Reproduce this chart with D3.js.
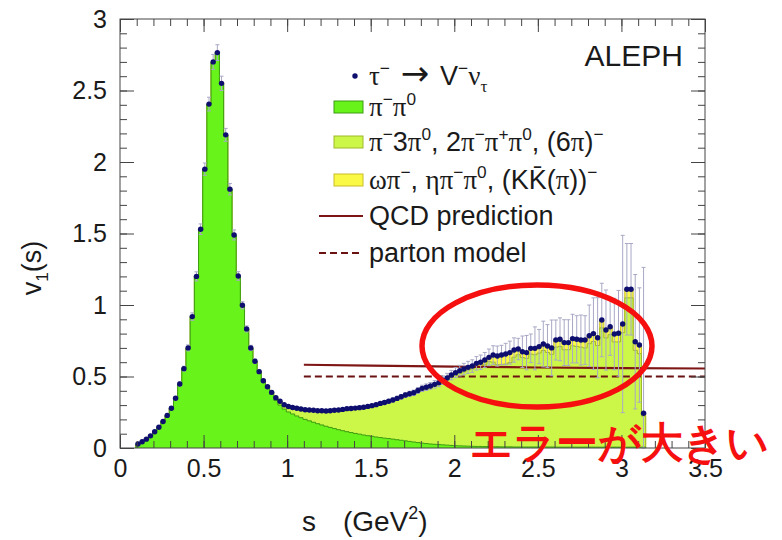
<!DOCTYPE html>
<html>
<head>
<meta charset="utf-8">
<script src="https://cdn.jsdelivr.net/npm/d3@7"></script>
<style>
  body { margin: 0; background: #fff; }
  svg text { font-family: "Liberation Sans", Arial, sans-serif; fill: #1a1a1a; }
</style>
</head>
<body>
<svg id="chart" width="782" height="540"></svg>
<script>
// histogram binning (GeV^2)
const binStart = 0.095
const binWidth = 0.025

// measured v1(s) with errors, one value per bin
const vData = [
  0.028, 0.044, 0.062, 0.085, 0.114, 0.145, 0.185, 0.228, 0.278, 0.348,
  0.448, 0.555, 0.700, 0.919, 1.200, 1.530, 1.950, 2.405, 2.700, 2.765,
  2.550, 2.190, 1.810, 1.490, 1.203, 0.998, 0.833, 0.700, 0.607, 0.534,
  0.470, 0.428, 0.389, 0.352, 0.327, 0.302, 0.290, 0.283, 0.278, 0.273,
  0.268, 0.266, 0.264, 0.261, 0.261, 0.259, 0.261, 0.264, 0.266, 0.270,
  0.275, 0.276, 0.279, 0.282, 0.285, 0.291, 0.296, 0.303, 0.312, 0.318,
  0.327, 0.336, 0.347, 0.358, 0.371, 0.379, 0.386, 0.402, 0.417, 0.425,
  0.434, 0.445, 0.457, 0.474, 0.490, 0.510, 0.527, 0.541, 0.552, 0.564,
  0.573, 0.592, 0.600, 0.615, 0.634, 0.650, 0.643, 0.650, 0.657, 0.667,
  0.685, 0.692, 0.673, 0.667, 0.697, 0.697, 0.709, 0.727, 0.713, 0.700,
  0.755, 0.760, 0.737, 0.737, 0.765, 0.760, 0.755, 0.755, 0.785, 0.800,
  0.771, 0.895, 0.825, 0.848, 0.797, 0.802, 0.867, 1.110, 1.110, 0.743,
  0.720, 0.243
]
const vErr = [
  0.004, 0.004, 0.005, 0.005, 0.006, 0.007, 0.008, 0.009, 0.010, 0.012,
  0.014, 0.017, 0.021, 0.026, 0.032, 0.037, 0.043, 0.048, 0.052, 0.055,
  0.050, 0.045, 0.040, 0.035, 0.030, 0.025, 0.021, 0.018, 0.015, 0.013,
  0.011, 0.010, 0.009, 0.008, 0.008, 0.007, 0.007, 0.007, 0.007, 0.007,
  0.007, 0.007, 0.007, 0.007, 0.008, 0.008, 0.008, 0.008, 0.008, 0.009,
  0.009, 0.009, 0.010, 0.010, 0.010, 0.011, 0.011, 0.012, 0.012, 0.013,
  0.013, 0.014, 0.015, 0.016, 0.017, 0.018, 0.019, 0.020, 0.022, 0.023,
  0.024, 0.026, 0.028, 0.030, 0.032, 0.033, 0.035, 0.037, 0.040, 0.042,
  0.044, 0.047, 0.050, 0.053, 0.058, 0.065, 0.070, 0.068, 0.075, 0.080,
  0.085, 0.075, 0.110, 0.120, 0.100, 0.150, 0.120, 0.160, 0.150, 0.195,
  0.140, 0.150, 0.160, 0.160, 0.170, 0.165, 0.175, 0.170, 0.215, 0.250,
  0.280, 0.257, 0.280, 0.200, 0.250, 0.300, 0.620, 0.320, 0.320, 0.470,
  0.400, 1.020
]

// stacked contributions
const pipi = [
  0.028, 0.044, 0.062, 0.085, 0.114, 0.145, 0.185, 0.228, 0.278, 0.348,
  0.448, 0.555, 0.700, 0.919, 1.200, 1.530, 1.950, 2.405, 2.700, 2.765,
  2.550, 2.190, 1.810, 1.490, 1.203, 0.998, 0.833, 0.700, 0.604, 0.530,
  0.465, 0.418, 0.374, 0.333, 0.300, 0.272, 0.252, 0.238, 0.224, 0.212,
  0.200, 0.190, 0.180, 0.170, 0.161, 0.152, 0.144, 0.136, 0.128, 0.121,
  0.114, 0.108, 0.102, 0.097, 0.091, 0.086, 0.082, 0.077, 0.073, 0.069,
  0.066, 0.062, 0.058, 0.054, 0.050, 0.046, 0.042, 0.038, 0.034, 0.031,
  0.028, 0.026, 0.024, 0.022, 0.020, 0.018, 0.016, 0.015, 0.014, 0.013,
  0.012, 0.011, 0.011, 0.010, 0.010, 0.009, 0.009, 0.008, 0.008, 0.008,
  0.007, 0.007, 0.007, 0.007, 0.007, 0.007, 0.007, 0.007, 0.007, 0.007,
  0.006, 0.006, 0.006, 0.006, 0.006, 0.006, 0.006, 0.006, 0.006, 0.006,
  0.006, 0.006, 0.006, 0.006, 0.006, 0.006, 0.006, 0.006, 0.006, 0.006,
  0.006, 0.006
]
const multiPi = [
  0, 0, 0, 0, 0, 0, 0, 0, 0, 0,
  0, 0, 0, 0, 0, 0, 0, 0, 0, 0,
  0, 0, 0, 0, 0, 0, 0, 0, 0.003, 0.004,
  0.005, 0.010, 0.015, 0.019, 0.027, 0.030, 0.035, 0.042, 0.051, 0.058,
  0.065, 0.073, 0.081, 0.088, 0.097, 0.104, 0.114, 0.125, 0.135, 0.146,
  0.156, 0.163, 0.172, 0.180, 0.189, 0.200, 0.209, 0.221, 0.234, 0.244,
  0.253, 0.266, 0.281, 0.296, 0.313, 0.325, 0.336, 0.356, 0.375, 0.386,
  0.394, 0.407, 0.421, 0.440, 0.458, 0.480, 0.491, 0.506, 0.518, 0.531,
  0.541, 0.551, 0.559, 0.575, 0.594, 0.591, 0.574, 0.577, 0.579, 0.589,
  0.628, 0.645, 0.626, 0.620, 0.650, 0.645, 0.657, 0.675, 0.661, 0.648,
  0.699, 0.704, 0.681, 0.681, 0.709, 0.704, 0.699, 0.694, 0.724, 0.739,
  0.710, 0.834, 0.764, 0.787, 0.736, 0.736, 0.801, 1.044, 1.044, 0.677,
  0.654, 0.217
]
const other = [
  0, 0, 0, 0, 0, 0, 0, 0, 0, 0,
  0, 0, 0, 0, 0, 0, 0, 0, 0, 0,
  0, 0, 0, 0, 0, 0, 0, 0, 0, 0,
  0, 0, 0, 0, 0, 0, 0.003, 0.003, 0.003, 0.003,
  0.003, 0.003, 0.003, 0.003, 0.003, 0.003, 0.003, 0.003, 0.003, 0.003,
  0.005, 0.005, 0.005, 0.005, 0.005, 0.005, 0.005, 0.005, 0.005, 0.005,
  0.008, 0.008, 0.008, 0.008, 0.008, 0.008, 0.008, 0.008, 0.008, 0.008,
  0.012, 0.012, 0.012, 0.012, 0.012, 0.012, 0.020, 0.020, 0.020, 0.020,
  0.020, 0.030, 0.030, 0.030, 0.030, 0.050, 0.060, 0.065, 0.070, 0.070,
  0.050, 0.040, 0.040, 0.040, 0.040, 0.045, 0.045, 0.045, 0.045, 0.045,
  0.050, 0.050, 0.050, 0.050, 0.050, 0.050, 0.050, 0.055, 0.055, 0.055,
  0.055, 0.055, 0.055, 0.055, 0.055, 0.060, 0.060, 0.060, 0.060, 0.060,
  0.060, 0.020
]

// theory curves
const qcdS = [1.1, 1.5, 2.0, 2.5, 3.0, 3.5]
const qcdV = [0.582, 0.576, 0.569, 0.563, 0.559, 0.556]
const partonS = [1.1, 3.5]
const partonV = [0.5, 0.5]

const xTicks = [0, 0.5, 1, 1.5, 2, 2.5, 3, 3.5]
const yTicks = [0, 0.5, 1, 1.5, 2, 2.5, 3]

// ---------------------------------------------------------------
let svg = d3.select("#chart")
let plotL = 120, plotR = 705, plotT = 19, plotB = 448

let x = d3.scaleLinear().domain([0, 3.5]).range([plotL, plotR])
let y = d3.scaleLinear().domain([0, 3]).range([plotB, plotT])

let bins = vData.map((v, i) => ({
  lo: binStart + i * binWidth,
  hi: binStart + (i + 1) * binWidth,
  v: v, e: vErr[i],
  pipi: pipi[i], multi: multiPi[i], other: other[i]
}))

let layers = d3.stack().keys(["pipi", "multi", "other"])(bins)
let fills = { pipi: "#68f41a", multi: "#cdf748", other: "#f9f946" }
let edges = { pipi: "#3d9c12", multi: "#9fb82c", other: "#c9bd2a" }

// ROOT-like: draw the total first, then each lower stack on top of it
let area = d3.area().x(p => x(p.s)).y0(y(0)).y1(p => y(p.top))
let line = d3.line().x(p => x(p.s)).y(p => y(p.top))

layers.slice().reverse().forEach(layer => {
  let pts = []
  layer.forEach(d => {
    pts.push({ s: d.data.lo, top: d[1] })
    pts.push({ s: d.data.hi, top: d[1] })
  })
  svg.append("path").attr("d", area(pts)).attr("fill", fills[layer.key])
  let outline = [{ s: pts[0].s, top: 0 }].concat(pts, [{ s: pts[pts.length - 1].s, top: 0 }])
  svg.append("path").attr("d", line(outline))
    .attr("fill", "none").attr("stroke", edges[layer.key]).attr("stroke-width", 1)
})

// QCD prediction and parton model
let curve = d3.line().x(d => x(d[0])).y(d => y(d[1]))
svg.append("path").attr("d", curve(d3.zip(qcdS, qcdV)))
  .attr("fill", "none").attr("stroke", "#7e1616").attr("stroke-width", 2.2)
svg.append("path").attr("d", curve(d3.zip(partonS, partonV)))
  .attr("fill", "none").attr("stroke", "#6a1212").attr("stroke-width", 2.2)
  .attr("stroke-dasharray", "7,4")

// error bars
let errG = svg.append("g").attr("stroke", "#a8a8c6").attr("stroke-width", 1)
bins.forEach(b => {
  let xc = x((b.lo + b.hi) / 2)
  let y1 = y(Math.max(0, b.v - b.e)), y2 = y(b.v + b.e)
  errG.append("line").attr("x1", xc).attr("x2", xc).attr("y1", y1).attr("y2", y2)
  errG.append("line").attr("x1", xc - 2).attr("x2", xc + 2).attr("y1", y2).attr("y2", y2)
  errG.append("line").attr("x1", xc - 2).attr("x2", xc + 2).attr("y1", y1).attr("y2", y1)
})

svg.append("g").selectAll("circle")
  .data(bins)
  .enter()
  .append("circle")
  .attr("cx", d => x((d.lo + d.hi) / 2))
  .attr("cy", d => y(d.v))
  .attr("r", 2.7)
  .attr("fill", "#0e0e6e")

// frame and ticks (ticks on all four sides, pointing inwards)
svg.append("rect").attr("x", plotL).attr("y", plotT)
  .attr("width", plotR - plotL).attr("height", plotB - plotT)
  .attr("fill", "none").attr("stroke", "#444").attr("stroke-width", 1)

let fmt = d3.format("~g")
let xMinor = d3.range(0, 3.5001, 0.1)
let yMinor = d3.range(0, 3.0001, 0.1)

function styleAxis(g) {
  g.select(".domain").remove()
  g.selectAll(".tick line").attr("stroke", "#444")
  g.selectAll("text").attr("font-size", 25).attr("fill", "#1a1a1a")
    .attr("font-family", "Liberation Sans, Arial, sans-serif")
}

svg.append("g").attr("transform", `translate(0,${plotB})`)
  .call(d3.axisBottom(x).tickValues(xMinor).tickSize(-7).tickFormat("")).call(styleAxis)
svg.append("g").attr("transform", `translate(0,${plotB})`)
  .call(d3.axisBottom(x).tickValues(xTicks).tickSize(-13).tickPadding(11).tickFormat(fmt)).call(styleAxis)
svg.append("g").attr("transform", `translate(0,${plotT})`)
  .call(d3.axisTop(x).tickValues(xMinor).tickSize(-7).tickFormat("")).call(styleAxis)
svg.append("g").attr("transform", `translate(0,${plotT})`)
  .call(d3.axisTop(x).tickValues(xTicks).tickSize(-13).tickFormat("")).call(styleAxis)

svg.append("g").attr("transform", `translate(${plotL},0)`)
  .call(d3.axisLeft(y).tickValues(yMinor).tickSize(-7).tickFormat("")).call(styleAxis)
svg.append("g").attr("transform", `translate(${plotL},0)`)
  .call(d3.axisLeft(y).tickValues(yTicks).tickSize(-14).tickPadding(13).tickFormat(fmt)).call(styleAxis)
svg.append("g").attr("transform", `translate(${plotR},0)`)
  .call(d3.axisRight(y).tickValues(yMinor).tickSize(-7).tickFormat("")).call(styleAxis)
svg.append("g").attr("transform", `translate(${plotR},0)`)
  .call(d3.axisRight(y).tickValues(yTicks).tickSize(-14).tickFormat("")).call(styleAxis)

// text with sub/superscripts; greek letters in a serif face like ROOT's symbol font
function richText(parent, px, py, parts, size, anchor) {
  let t = parent.append("text").attr("x", px).attr("y", py)
    .attr("font-size", size).attr("text-anchor", anchor || "start")
  let shift = 0
  parts.forEach(p => {
    let want = p.sup ? -0.42 * size : p.sub ? 0.26 * size : 0
    let ts = t.append("tspan").attr("dy", want - shift).text(p.t)
    if (p.sup || p.sub) ts.attr("font-size", size * 0.64)
    if (p.g) ts.attr("font-family", "Liberation Serif, serif")
    if (p.f) ts.attr("font-family", p.f)
    if (p.size) ts.attr("font-size", p.size)
    shift = want
  })
  return t
}

// axis titles
richText(svg, 302, 531, [{ t: "s" }], 28)
richText(svg, 343, 531, [{ t: "(GeV" }, { t: "2", sup: 1 }, { t: ")" }], 28)
let yl = svg.append("g").attr("transform", "translate(41,268) rotate(-90)")
richText(yl, 0, 0, [{ t: "v" }, { t: "1", sub: 1 }, { t: "(s)" }], 27, "middle")

svg.append("text").attr("x", 683).attr("y", 66).attr("text-anchor", "end")
  .attr("font-size", 30).text("ALEPH")

// legend
let lx = 369
let legendRows = [
  { kind: "dot", cy: 76, parts: [{ t: "τ", g: 1 }, { t: "−", sup: 1 }, { t: " → ", f: "DejaVu Sans", size: 34 }, { t: "V" }, { t: "−", sup: 1 }, { t: "ν", g: 1 }, { t: "τ", g: 1, sub: 1 }] },
  { kind: "box", key: "pipi", cy: 107, parts: [{ t: "π", g: 1 }, { t: "−", sup: 1 }, { t: "π", g: 1 }, { t: "0", sup: 1 }] },
  { kind: "box", key: "multi", cy: 142, parts: [{ t: "π", g: 1 }, { t: "−", sup: 1 }, { t: "3" }, { t: "π", g: 1 }, { t: "0", sup: 1 }, { t: ", 2" }, { t: "π", g: 1 }, { t: "−", sup: 1 }, { t: "π", g: 1 }, { t: "+", sup: 1 }, { t: "π", g: 1 }, { t: "0", sup: 1 }, { t: ", (6" }, { t: "π", g: 1 }, { t: ")" }, { t: "−", sup: 1 }] },
  { kind: "box", key: "other", cy: 180, parts: [{ t: "ω", g: 1 }, { t: "π", g: 1 }, { t: "−", sup: 1 }, { t: ", " }, { t: "η", g: 1 }, { t: "π", g: 1 }, { t: "−", sup: 1 }, { t: "π", g: 1 }, { t: "0", sup: 1 }, { t: ", (K" }, { t: "K\u0304" }, { t: "(" }, { t: "π", g: 1 }, { t: "))" }, { t: "−", sup: 1 }] },
  { kind: "solid", cy: 216, parts: [{ t: "QCD prediction" }] },
  { kind: "dash", cy: 253, parts: [{ t: "parton model" }] }
]

legendRows.forEach(r => {
  if (r.kind == "dot") {
    svg.append("circle").attr("cx", 355).attr("cy", r.cy).attr("r", 2.7).attr("fill", "#0e0e6e")
  } else if (r.kind == "box") {
    svg.append("rect").attr("x", 334).attr("y", r.cy - 6).attr("width", 29).attr("height", 12)
      .attr("fill", fills[r.key]).attr("stroke", edges[r.key]).attr("stroke-width", 1)
  } else {
    svg.append("line").attr("x1", 319).attr("x2", 363).attr("y1", r.cy).attr("y2", r.cy)
      .attr("stroke", r.kind == "solid" ? "#7e1616" : "#6a1212").attr("stroke-width", 2.2)
      .attr("stroke-dasharray", r.kind == "dash" ? "7,4" : null)
  }
  richText(svg, lx, r.cy + 9, r.parts, 27)
})

// annotation
svg.append("ellipse").attr("cx", 537).attr("cy", 346).attr("rx", 115).attr("ry", 61)
  .attr("fill", "none").attr("stroke", "#f50f0f").attr("stroke-width", 5.5)
svg.append("text").attr("x", 470).attr("y", 457)
  .attr("font-family", "Noto Sans CJK JP, sans-serif").attr("font-weight", "bold")
  .attr("font-size", 42).style("fill", "#f50f0f")
  .text("エラーが大きい")
</script>
</body>
</html>
